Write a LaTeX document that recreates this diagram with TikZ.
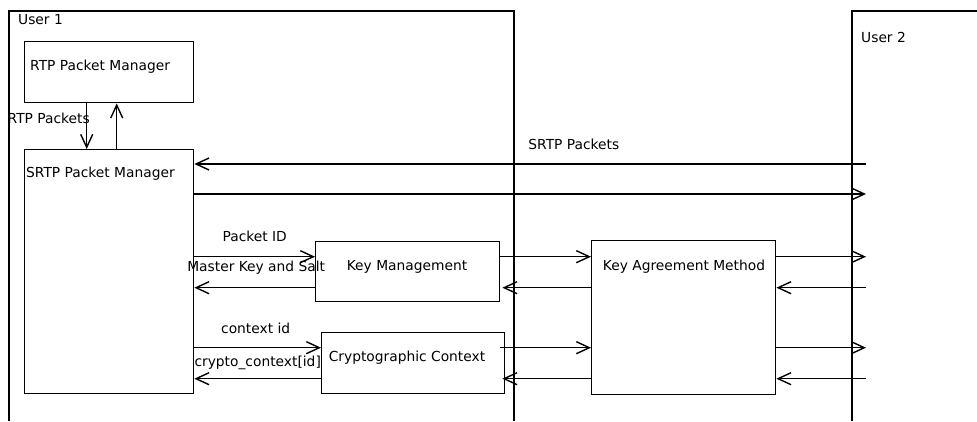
\documentclass[tikz,border=0pt]{standalone}
\usepackage{fontspec}
\setmainfont{DejaVu Sans}
\usetikzlibrary{arrows.meta}

\tikzset{
  box/.style={draw, line width=1.4pt, inner sep=0pt, anchor=north west},
  arr/.style={-{Straight Barb[length=13pt,width=12pt,line width=1.4pt]}, line width=1.4pt},
  lbl/.style={inner sep=0pt}
}

\begin{document}
\begin{tikzpicture}[x=1pt,y=-1pt,font=\fontsize{13.8}{16}\selectfont]
  \useasboundingbox (0,0) rectangle (977,421);
  % the two users
  \draw[line width=1.4pt] (9,421) |- (514,11) -- (514,421);
  \draw[line width=1.4pt] (852,421) |- (977,11);
  \node[lbl, anchor=west] (user1) at (18,20) {User 1};
  \node[lbl, anchor=west] (user2) at (861,37) {User 2};

  % boxes
  \node[box, minimum width=169pt, minimum height=61pt] (rtp) at (24,41) {};
  \node[box, minimum width=169pt, minimum height=244pt] (srtp) at (24,149) {};
  \node[box, minimum width=184pt, minimum height=60pt] (km) at (315,241) {};
  \node[box, minimum width=183pt, minimum height=61pt] (crypto) at (321,332) {};
  \node[box, minimum width=184pt, minimum height=154pt] (kam) at (591,240) {};
  \node[lbl, anchor=west] (rtptext) at (30,67) {RTP Packet Manager};
  \node[lbl, anchor=west] (srtptext) at (26,174) {SRTP Packet Manager};
  \node[lbl] (kmtext) at (407,267) {Key Management};
  \node[lbl] (cryptotext) at (407,358) {Cryptographic Context};
  \node[lbl] (kamtext) at (684,267) {Key Agreement Method};

  % rtp <-> srtp
  \draw[arr] ([xshift=-22.5pt]rtp.south) -- ([xshift=-22.5pt]srtp.north)
    node[midway, xshift=-38pt, yshift=8pt] {RTP Packets};
  \draw[arr] ([xshift=7.5pt]srtp.north) -- ([xshift=7.5pt]rtp.south);

  % srtp packets to and from user 2
  \coordinate (sA) at (866,164);
  \coordinate (sB) at (866,194);
  \draw[arr] (sA) -- (srtp.east |- sA) node[pos=0.435, yshift=20pt] {SRTP Packets};
  \draw[arr] (srtp.east |- sB) -- (sB);

  % key management
  \coordinate (kmA) at ([yshift=15pt]km.west);
  \coordinate (kmB) at ([yshift=-16pt]km.west);
  \draw[arr] (srtp.east |- kmA) -- (kmA) node[midway, yshift=20pt] {Packet ID};
  \draw[arr] (kmB) -- (srtp.east |- kmB) node[midway, xshift=1.5pt, yshift=20pt] {Master Key and Salt};
  \draw[arr] (km.east |- kmA) -- (kam.west |- kmA);
  \draw[arr] (kam.west |- kmB) -- ([xshift=2pt]km.east |- kmB);

  % cryptographic context
  \coordinate (cA) at ([yshift=15.5pt]crypto.west);
  \coordinate (cB) at ([yshift=-15.5pt]crypto.west);
  \draw[arr] (srtp.east |- cA) -- (cA) node[midway, xshift=-2pt, yshift=19pt] {context id};
  \draw[arr] (cB) -- (srtp.east |- cB) node[midway, yshift=16pt] {crypto\_context[id]};
  \draw[arr] ([xshift=-5pt]crypto.east |- cA) -- (kam.west |- cA);
  \draw[arr] (kam.west |- cB) -- ([xshift=-3pt]crypto.east |- cB);

  % key agreement with user 2
  \coordinate (u2) at (866,0);
  \draw[arr] (kam.east |- kmA) -- (u2 |- kmA);
  \draw[arr] (u2 |- kmB) -- (kam.east |- kmB);
  \draw[arr] (kam.east |- cA) -- (u2 |- cA);
  \draw[arr] (u2 |- cB) -- (kam.east |- cB);
\end{tikzpicture}
\end{document}
